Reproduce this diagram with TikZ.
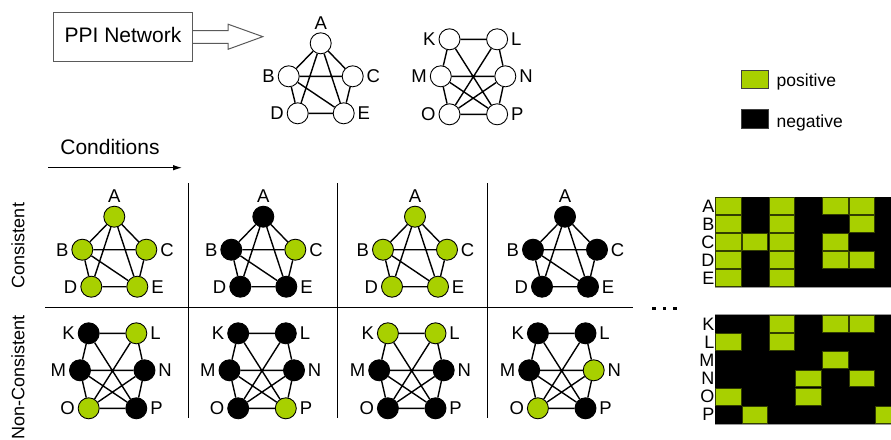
\documentclass[tikz,border=0pt]{standalone}
\usepackage{fontspec}
\setmainfont{Liberation Sans}
\usetikzlibrary{arrows.meta}

\definecolor{pos}{RGB}{168,208,0}
\definecolor{boxline}{RGB}{90,90,90}

\newcommand\lblfont{\fontsize{17.5}{20}\selectfont}
\newcommand\vtxfont{\fontsize{18.5}{20}\selectfont}
\newcommand\bigfont{\fontsize{21}{24}\selectfont}
\newcommand\rowfont{\fontsize{18}{20}\selectfont}

\tikzset{
  vtx/.style={circle, draw=black, line width=0.9pt, minimum size=21pt, inner sep=0pt},
  lbl/.style={font=\vtxfont, inner sep=0.8pt},
  edge/.style={line width=1.4pt},
  sepline/.style={line width=1pt},
  poscell/.style={fill=pos, draw=black!70!pos, line width=0.8pt},
  mlbl/.style={font=\fontsize{18}{18}\selectfont, inner sep=0pt, anchor=east},
  swatch/.style={draw=black!75, line width=0.8pt, minimum width=26.6pt, inner sep=0pt},
}

% five-node network A..E: prefix, x, y, fills of A B C D E
\newcommand\netAE[8]{%
  \node[vtx,fill=#4,label={[lbl]above:A}] (#1A) at (#2,#3) {};
  \node[vtx,fill=#5,label={[lbl]left:B}]  (#1B) at ({#2-32},{#3+33}) {};
  \node[vtx,fill=#6,label={[lbl]right:C}] (#1C) at ({#2+32},{#3+33}) {};
  \node[vtx,fill=#7,label={[lbl]left:D}]  (#1D) at ({#2-23},{#3+70}) {};
  \node[vtx,fill=#8,label={[lbl]right:E}] (#1E) at ({#2+23},{#3+70}) {};
  \draw[edge] (#1A)--(#1B) (#1A)--(#1C) (#1A)--(#1D) (#1A)--(#1E)
              (#1B)--(#1C) (#1B)--(#1D) (#1B)--(#1E) (#1C)--(#1E) (#1D)--(#1E);
}

% six-node network K..P: prefix, centre x, y of top row, fills of K L M N O P
\newcommand\netKP[9]{%
  \node[vtx,fill=#4,label={[lbl]left:K}]  (#1K) at ({#2-23.8},#3) {};
  \node[vtx,fill=#5,label={[lbl]right:L}] (#1L) at ({#2+23.8},#3) {};
  \node[vtx,fill=#6,label={[lbl]left:M}]  (#1M) at ({#2-32.5},{#3+37}) {};
  \node[vtx,fill=#7,label={[lbl]right:N}] (#1N) at ({#2+32},{#3+37}) {};
  \node[vtx,fill=#8,label={[lbl]left:O}]  (#1O) at ({#2-23.8},{#3+75}) {};
  \node[vtx,fill=#9,label={[lbl]right:P}] (#1P) at ({#2+23.8},{#3+75}) {};
  \draw[edge] (#1K)--(#1L) (#1K)--(#1M) (#1K)--(#1P) (#1L)--(#1N) (#1L)--(#1O)
              (#1M)--(#1N) (#1M)--(#1O) (#1M)--(#1P) (#1N)--(#1O) (#1N)--(#1P)
              (#1O)--(#1P);
}

\begin{document}
\begin{tikzpicture}[x=1pt, y=-1pt, label distance=2pt]
\useasboundingbox (0,0) rectangle (891,439);

% PPI network box with block arrow
\node[draw=boxline, line width=1pt, minimum width=139.4pt, minimum height=48.3pt,
      text depth=4pt, font=\bigfont] (ppi) at (123,36.85) {PPI Network};
\draw[boxline, line width=1pt] (ppi.east) ++(0,-6.2) -- ++(35,0) -- ++(0,-6.4)
      -- ++(34.6,12.4) -- ++(-34.6,12.6) -- ++(0,-6) -- ++(-35,0);

% the two interaction networks
\netAE{t}{320.7}{43.3}{white}{white}{white}{white}{white}
\netKP{u}{473.3}{39.3}{white}{white}{white}{white}{white}{white}

% legend
\node[swatch, fill=pos, minimum height=18.3pt] (lgp) at (755,79.2) {};
\node[font=\lblfont, anchor=base west, inner sep=0pt] (lgpt) at (776.5,86.7) {positive};
\node[swatch, fill=black, minimum height=19pt] (lgn) at (755,118.8) {};
\node[font=\lblfont, anchor=base west, inner sep=0pt] (lgnt) at (776.5,127.3) {negative};

% conditions axis
\node[font=\bigfont, inner sep=0pt] (cond) at (110,146.7) {Conditions};
\coordinate (cs) at (48,167.7);
\coordinate (ce) at (182,167.7);
\draw[line width=1pt, -{Latex[length=9pt,width=5.5pt]}] (cs) -- (ce);

% table rules
\draw[sepline] (45,307) -- (633,307);
\foreach \xx in {188,337.5,487.5} \draw[sepline] (\xx,183) -- (\xx,418);

% row headings
\node[rotate=90, font=\rowfont, inner sep=0pt] (rc) at (18,245.5) {Consistent};
\node[rotate=90, font=\rowfont, inner sep=0pt] (rn) at (18,377) {Non-Consistent};

% consistent module under four conditions
\netAE{a}{114.3}{216.7}{pos}{pos}{pos}{pos}{pos}
\netAE{b}{263.3}{216.7}{black}{black}{pos}{black}{black}
\netAE{c}{415}{216.7}{pos}{pos}{pos}{pos}{pos}
\netAE{d}{565}{216.7}{black}{black}{black}{black}{black}

% non-consistent module under four conditions
\netKP{e}{112.5}{333.3}{black}{pos}{black}{black}{pos}{black}
\netKP{f}{262}{333.3}{black}{black}{black}{black}{black}{pos}
\netKP{g}{411.7}{333.3}{pos}{pos}{black}{black}{black}{black}
\netKP{h}{561.7}{333.3}{black}{black}{black}{pos}{pos}{black}

% ellipsis
\foreach \xx in {654,664.5,675} \fill (\xx-1.6,306.7) rectangle ++(3.2,3.2);

% expression matrix of the consistent module
\fill (715,196.7) rectangle (895,287.2);
\draw[gray!80, line width=0.7pt] (715,287.6) -- (891,287.6);
\foreach \row [count=\r from 0] in {{1,0,1,0,1,1,0},{1,0,1,0,0,1,0},{1,1,1,0,1,0,0},{1,0,1,0,1,1,0},{1,0,1,0,0,0,0}} {
  \foreach \v [count=\c from 0] in \row {
    \ifnum\v=1 \draw[poscell] ({715.6+26.7*\c},{197.3+18.1*\r}) rectangle ++(25.5,16.9); \fi
  }
}
\foreach \t [count=\r from 0] in {A,B,C,D,E}
  \node[mlbl] (ma\r) at (714.5,{196.7+18.1*\r+9.3}) {\t};

% expression matrix of the non-consistent module
\fill (715,315) rectangle (895,423.6);
\draw[gray!80, line width=0.7pt] (715,314.6) -- (891,314.6);
\draw[gray!80, line width=0.7pt] (715,424) -- (891,424);
\foreach \row [count=\r from 0] in {{0,0,1,0,1,1,0},{1,0,1,0,0,0,0},{0,0,0,0,1,0,0},{0,0,0,1,0,1,0},{1,0,0,1,0,0,0},{0,1,0,0,0,0,1}} {
  \foreach \v [count=\c from 0] in \row {
    \ifnum\v=1 \draw[poscell] ({715.6+26.7*\c},{315.6+18.1*\r}) rectangle ++(25.5,16.9); \fi
  }
}
\foreach \t [count=\r from 0] in {K,L,M,N,O,P}
  \node[mlbl] (mb\r) at (714.5,{315+18.1*\r+9.3}) {\t};

\end{tikzpicture}
\end{document}
